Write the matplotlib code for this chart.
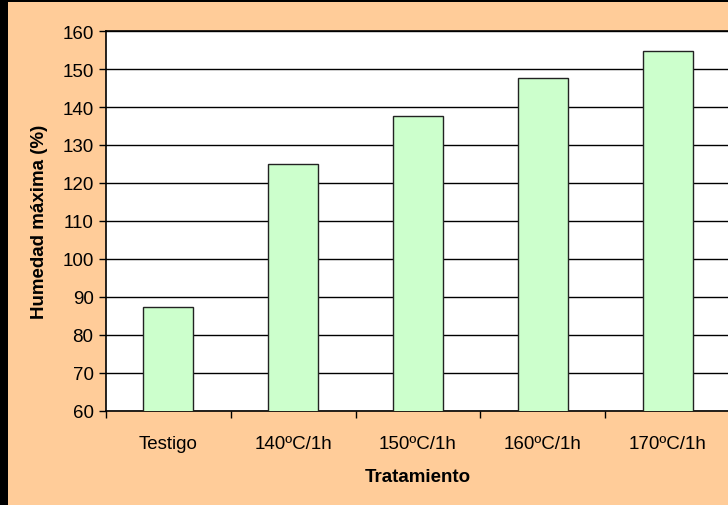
import matplotlib
matplotlib.use("Agg")
import matplotlib.pyplot as plt
from matplotlib.patches import Rectangle
import numpy as np

# Data
tratamientos = ["Testigo", "140ºC/1h", "150ºC/1h", "160ºC/1h", "170ºC/1h"]
humedad = [87.4, 125.0, 137.6, 147.6, 154.7]
y_ticks = list(range(60, 161, 10))

plt.rcParams["font.family"] = ["Liberation Sans", "DejaVu Sans"]

W, H = 728, 506
fig = plt.figure(figsize=(W / 100, H / 100), dpi=100, facecolor="#FFCC99")

# black frame strips (left and top)
fig.patches.append(Rectangle((0, 0), 8 / W, 1, transform=fig.transFigure,
                             facecolor="black", edgecolor="none", zorder=0))
fig.patches.append(Rectangle((0, 1 - 3 / H), 1, 3 / H, transform=fig.transFigure,
                             facecolor="black", edgecolor="none", zorder=0))

left, right = 106 / W, 730 / W
bottom, top = (H - 412) / H, (H - 32) / H
ax = fig.add_axes([left, bottom, right - left, top - bottom])
ax.set_facecolor("white")

x = np.arange(len(tratamientos))
ax.bar(x, humedad, width=0.4, color="#CCFFCC", edgecolor="#222222",
       linewidth=1.0, zorder=3)

ax.set_xlim(-0.5, len(tratamientos) - 0.5)
ax.set_ylim(60, 160)
ax.set_yticks(y_ticks)
ax.yaxis.grid(True, color="black", linewidth=1.0, zorder=0)
ax.set_axisbelow(True)

ax.set_xticks(x)
ax.set_xticklabels(tratamientos, fontsize=13.5)
ax.tick_params(axis="x", which="major", length=0, pad=17)
ax.set_xticks(np.arange(-0.5, len(tratamientos)), minor=True)
ax.tick_params(axis="x", which="minor", length=5, width=1, direction="out")
ax.tick_params(axis="y", labelsize=13.5, length=5, width=1, direction="out", pad=4)

for side in ["left", "bottom", "top"]:
    ax.spines[side].set_color("black")
    ax.spines[side].set_linewidth(1.2)
ax.spines["right"].set_visible(False)

ax.set_xlabel("Tratamiento", fontsize=13.5, fontweight="bold", labelpad=12)
ax.set_ylabel("Humedad máxima (%)", fontsize=13.5, fontweight="bold", labelpad=10)

fig.savefig("out.png", dpi=100, facecolor=fig.get_facecolor())
